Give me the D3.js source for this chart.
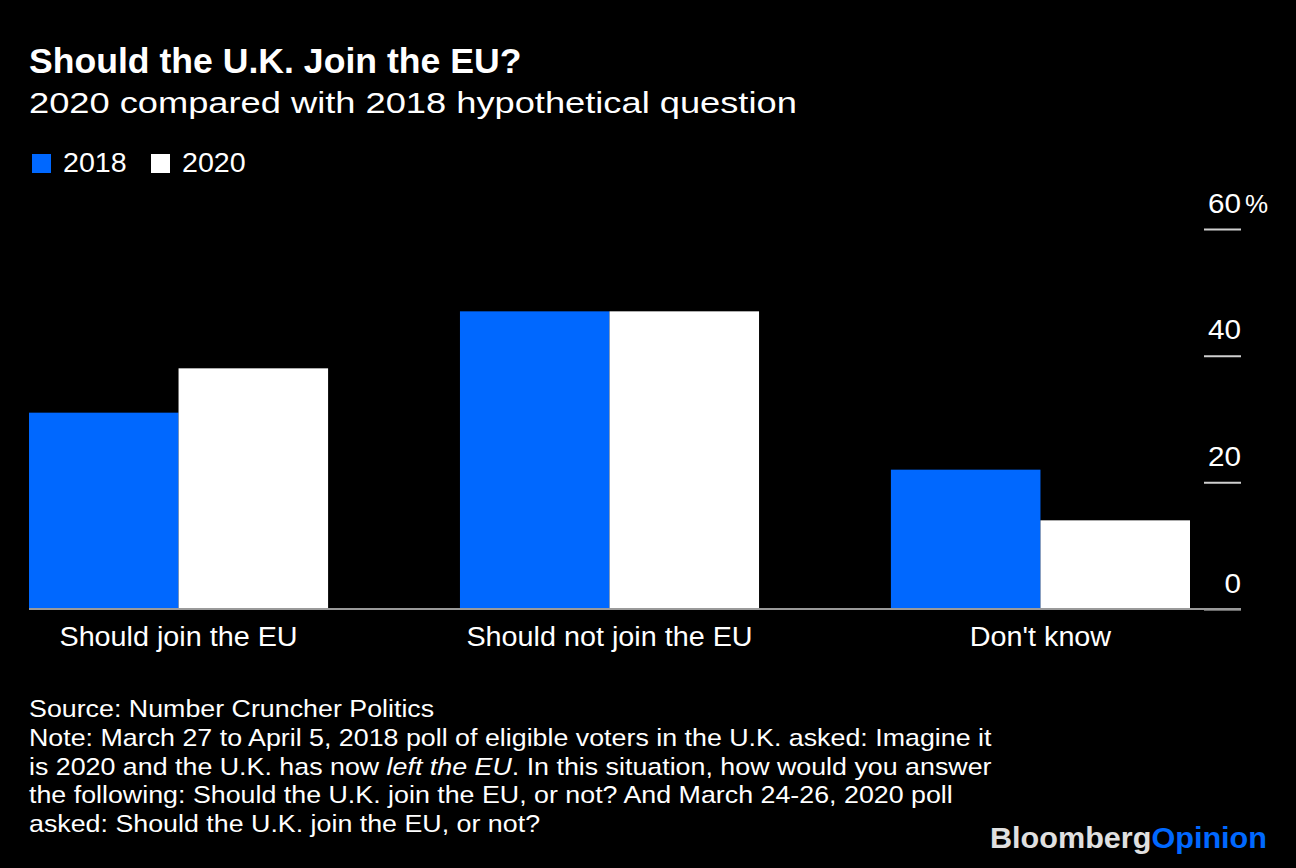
<!DOCTYPE html>
<html>
<head>
<meta charset="utf-8">
<script src="https://cdn.jsdelivr.net/npm/d3@7"></script>
<style>
  html, body { margin: 0; padding: 0; background: #000; }
  svg { display: block; }
  text { font-family: "Liberation Sans", Arial, sans-serif; fill: #fff; }
</style>
</head>
<body>
<svg id="chart" width="1296" height="868"></svg>
<script>
const categories = ["Should join the EU", "Should not join the EU", "Don't know"];
const seriesNames = ["2018", "2020"];
const values2018 = [31, 47, 22];
const values2020 = [38, 47, 14];
const yTicks = [0, 20, 40, 60];
const colors = ["#0068ff", "#ffffff"];

const svg = d3.select("#chart");
svg.append("rect").attr("width", 1296).attr("height", 868).attr("fill", "#000");

// widen text horizontally to mimic the wider reference typeface
function stretch(sel, factor) {
  sel.each(function () {
    const w = this.getComputedTextLength();
    d3.select(this).attr("textLength", w * factor).attr("lengthAdjust", "spacingAndGlyphs");
  });
}

// Title
svg.append("text").attr("x", 29).attr("y", 73)
  .style("font-size", "35px").style("font-weight", "bold")
  .text("Should the U.K. Join the EU?").call(stretch, 1.017);
svg.append("text").attr("x", 29).attr("y", 113)
  .style("font-size", "29px")
  .text("2020 compared with 2018 hypothetical question").call(stretch, 1.25);

// Legend
const legend = svg.append("g");
const legX = [32, 151];
seriesNames.forEach((s, i) => {
  legend.append("rect").attr("x", legX[i]).attr("y", 154).attr("width", 19).attr("height", 19).attr("fill", colors[i]);
  legend.append("text").attr("x", legX[i] + 31).attr("y", 172).style("font-size", "27px").text(s).call(stretch, 1.06);
});

// Scales
const x0 = d3.scaleBand().domain(categories).range([29, 1190]).paddingInner(0.306).paddingOuter(0);
const x1 = d3.scaleBand().domain(seriesNames).range([0, x0.bandwidth()]).padding(0);
const y = d3.scaleLinear().domain([0, 60]).range([609, 229]);

const data = categories.map((c, i) => ({ cat: c, vals: [values2018[i], values2020[i]] }));

// Bars
const groups = svg.append("g").selectAll("g").data(data).join("g")
  .attr("transform", d => `translate(${x0(d.cat)},0)`);
groups.selectAll("rect").data(d => d.vals.map((v, i) => ({ s: seriesNames[i], v, i })))
  .join("rect")
  .attr("x", d => x1(d.s))
  .attr("width", x1.bandwidth())
  .attr("y", d => y(d.v))
  .attr("height", d => y(0) - y(d.v))
  .attr("fill", d => colors[d.i]);

// Y axis (right side)
const yAxis = d3.axisLeft(y).tickValues(yTicks).tickSize(37).tickPadding(0).tickFormat(d => d);
const yg = svg.append("g").attr("transform", "translate(1241,0)").call(yAxis);
yg.select(".domain").remove();
yg.selectAll(".tick line").attr("stroke", "#cfcfcf").attr("stroke-width", 2);
yg.selectAll(".tick text")
  .attr("x", 0).attr("dy", null).attr("y", -17)
  .attr("text-anchor", "end")
  .style("font-size", "28px").style("font-family", "Liberation Sans, Arial, sans-serif")
  .attr("fill", "#fff")
  .call(stretch, 1.06);
yg.selectAll(".tick").filter(d => d === 60).append("text")
  .attr("x", 4).attr("y", -17).attr("text-anchor", "start")
  .style("font-size", "26px").attr("fill", "#fff").text("%");

// Baseline
svg.append("line").attr("x1", 29).attr("x2", 1241).attr("y1", y(0)).attr("y2", y(0))
  .attr("stroke", "#9a9a9a").attr("stroke-width", 2);

// X axis labels
const xAxis = d3.axisBottom(x0).tickSize(0).tickPadding(0);
const xg = svg.append("g").attr("transform", `translate(0,${y(0)})`).call(xAxis);
xg.select(".domain").remove();
xg.selectAll(".tick text").attr("y", 37).attr("dy", null)
  .style("font-size", "27px").style("font-family", "Liberation Sans, Arial, sans-serif")
  .attr("fill", "#fff")
  .call(stretch, 1.065);

// Footnotes
const footG = svg.append("g").attr("transform", "translate(29,717) scale(1.117,1)");
const foot = footG.append("text").attr("x", 0).attr("y", 0).style("font-size", "24px");
const lines = [
  [["Source: Number Cruncher Politics", false]],
  [["Note: March 27 to April 5, 2018 poll of eligible voters in the U.K. asked: Imagine it", false]],
  [["is 2020 and the U.K. has now ", false], ["left the EU", true], [". In this situation, how would you answer", false]],
  [["the following: Should the U.K. join the EU, or not? And March 24-26, 2020 poll", false]],
  [["asked: Should the U.K. join the EU, or not?", false]]
];
lines.forEach((ln, li) => {
  ln.forEach((seg, si) => {
    const t = foot.append("tspan").text(seg[0]);
    if (si === 0) t.attr("x", 0).attr("dy", li === 0 ? 0 : 28.8);
    if (seg[1]) t.style("font-style", "italic");
  });
});

// Logo
const logo = svg.append("text").attr("x", 990).attr("y", 848)
  .style("font-size", "29px").style("font-weight", "bold")
  .attr("textLength", 277).attr("lengthAdjust", "spacingAndGlyphs");
logo.append("tspan").style("fill", "#e0e0e0").text("Bloomberg");
logo.append("tspan").style("fill", "#0068ff").text("Opinion");
</script>
</body>
</html>
